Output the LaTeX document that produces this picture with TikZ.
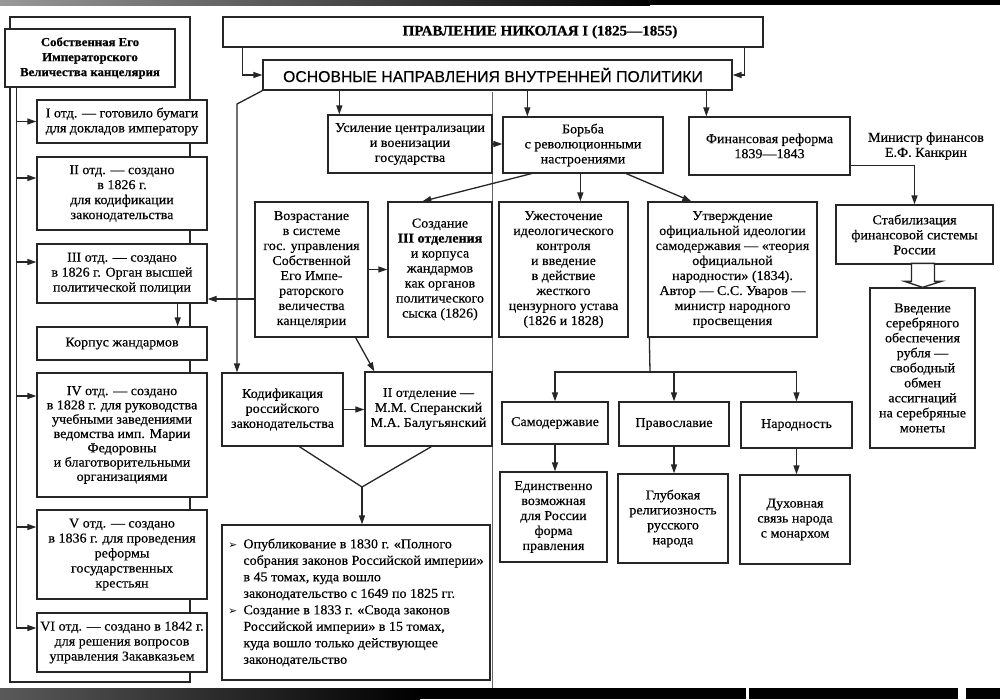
\documentclass[tikz,border=0pt]{standalone}
\usepackage{fontspec}
\setmainfont[FakeStretch=1.04,UprightFeatures={FakeBold=0.4},BoldFeatures={FakeBold=0.5}]{Liberation Serif}
\newfontfamily\sansf[FakeBold=0.3]{Liberation Sans}
\newfontfamily\symf{DejaVu Sans}
\usetikzlibrary{arrows.meta,calc}
\newcommand\Bx[7][]{\node[box,#1,minimum width={#5-#3},minimum height={#6-#4}] (#2) at ({(#3+#5)/2},{(#4+#6)/2}) {#7};}
\newcommand\Bul{\makebox[15pt][l]{\symf\fontsize{10.5}{10}\selectfont ➢}}
\newcommand\Ind{\hspace*{15pt}}
\begin{document}
\begin{tikzpicture}[x=1pt,y=-1pt,
  ln/.style={draw=black!85,line width=1.3pt},
  box/.style={ln,fill=white,inner sep=2pt,align=center,font=\fontsize{13.5}{15}\selectfont},
  arr/.style={ln,-{Triangle[length=9pt,width=6pt]}}]
\useasboundingbox (0,0) rectangle (1000,699);
\fill[white] (0,0) rectangle (1000,699);
% bands
\shade[left color=black!40,right color=black] (0,0) rectangle (650,5);
\fill[black] (650,0) rectangle (1000,5);
\shade[left color=black!65,right color=black] (0,688) rectangle (420,699);
\fill[black] (420,688) rectangle (746,699);
\fill[black] (749,688) rectangle (958,699);
\fill[black] (966,688) rectangle (1000,699);
% frame and seam
\draw[ln] (10,17) rectangle (190,682);
\draw[draw=black!60,line width=0.7pt] (492,92) -- (492,688);
% left panel
\Bx[font=\bfseries\fontsize{12.3}{15}\selectfont]{kanc}{5}{29}{175}{87}{Собственная Его\\Императорского\\Величества канцелярия}
\Bx{o1}{37}{100}{207}{143}{I отд. — готовило бумаги\\для докладов императору}
\Bx{o2}{37}{157}{207}{230}{II отд. — создано\\в 1826 г.\\для кодификации\\законодательства}
\Bx{o3}{37}{244}{207}{303}{III отд. — создано\\в 1826 г. Орган высшей\\политической полиции}
\Bx{korp}{37}{327}{207}{360}{Корпус жандармов}
\Bx[font=\fontsize{13.5}{14.3}\selectfont]{o4}{37}{373}{207}{497}{IV отд. — создано\\в 1828 г. для руководства\\учебными заведениями\\ведомства имп. Марии\\Федоровны\\и благотворительными\\организациями}
\Bx{o5}{37}{510}{207}{599}{V отд. — создано\\в 1836 г. для проведения\\реформы\\государственных\\крестьян}
\Bx{o6}{37}{613}{207}{672}{VI отд. — создано в 1842 г.\\для решения вопросов\\управления Закавказьем}
% top
\Bx[font=\bfseries\fontsize{14.5}{15}\selectfont]{pravl}{223}{17}{763}{47}{\hspace*{94pt}ПРАВЛЕНИЕ НИКОЛАЯ I (1825—1855)}
\Bx[font=\sansf\fontsize{15.8}{17}\selectfont]{osn}{263}{60}{732}{90}{\hspace*{-9pt}ОСНОВНЫЕ НАПРАВЛЕНИЯ ВНУТРЕННЕЙ ПОЛИТИКИ}
\Bx{usil}{328}{115}{492}{173}{Усиление централизации\\и военизации\\государства}
\Bx{borba}{503}{117}{663}{173}{Борьба\\с революционными\\настроениями}
\Bx{fin}{689}{117}{850}{175}{Финансовая реформа\\1839—1843}
\node[align=center,inner sep=0pt,font=\fontsize{13.5}{15}\selectfont] (kankrin) at (926,146) {Министр финансов\\Е.Ф. Канкрин};
\Bx{stab}{836}{205}{993}{264}{Стабилизация\\финансовой системы\\России}
\Bx{vved}{870}{288}{975}{448}{Введение\\серебряного\\обеспечения\\рубля —\\свободный\\обмен\\ассигнаций\\на серебряные\\монеты}
\Bx{vozr}{255}{202}{368}{337}{Возрастание\\в системе\\гос. управления\\Собственной\\Его Импе-\\раторского\\величества\\канцелярии}
\Bx{sozd}{388}{202}{492}{337}{Создание\\\textbf{III отделения}\\и корпуса\\жандармов\\как органов\\политического\\сыска (1826)}
\Bx{uzhest}{499}{202}{628}{337}{Ужесточение\\идеологического\\контроля\\и введение\\в действие\\жесткого\\цензурного устава\\(1826 и 1828)}
\Bx{utv}{648}{202}{817}{337}{Утверждение\\официальной идеологии\\самодержавия — «теория\\официальной\\народности» (1834).\\Автор — С.С. Уваров —\\министр народного\\просвещения}
\Bx{samo}{502}{402}{608}{444}{Самодержавие}
\Bx{prav}{619}{402}{729}{446}{Православие}
\Bx{narod}{741}{402}{852}{448}{Народность}
\Bx{ed}{500}{472}{607}{562}{Единственно\\возможная\\для России\\форма\\правления}
\Bx{glub}{618}{474}{728}{563}{Глубокая\\религиозность\\русского\\народа}
\Bx{duh}{740}{475}{850}{564}{Духовная\\связь народа\\с монархом}
\Bx{kodif}{222}{373}{343}{446}{Кодификация\\российского\\законодательства}
\Bx{otd2}{365}{372}{492}{446}{II отделение —\\М.М. Сперанский\\М.А. Балугьянский}
\Bx[align=left,font=\fontsize{13.5}{16.5}\selectfont]{publ}{222}{525}{490}{680}{\Bul Опубликование в 1830 г. «Полного\\\Ind собрания законов Российской империи»\\\Ind в 45 томах, куда вошло\\\Ind законодательство с 1649 по 1825 гг.\\\Bul Создание в 1833 г. «Свода законов\\\Ind Российской империи» в 15 томах,\\\Ind куда вошло только действующее\\\Ind законодательство}
% left connectors
\coordinate (sp) at ([xshift=12pt]kanc.south west);
\coordinate (s6) at ([yshift=14.5pt]o6.west);
\draw[arr] (sp) |- (s6);
\draw[arr] (sp |- o1.west) -- (o1.west);
\coordinate (s2) at ([yshift=15.5pt]o2.west);
\draw[arr] (sp |- s2) -- (s2);
\coordinate (s3) at ([yshift=11.5pt]o3.west);
\draw[arr] (sp |- s3) -- (s3);
\coordinate (s4) at ([yshift=39pt]o4.west);
\draw[arr] (sp |- s4) -- (s4);
\coordinate (s5) at ([yshift=27.5pt]o5.west);
\draw[arr] (sp |- s5) -- (s5);
\coordinate (c3) at ([xshift=-30pt]o3.south east);
\draw[arr] (c3) -- (c3 |- korp.north);
% top connectors
\draw[arr] ([xshift=20pt]pravl.south west) |- (osn.west);
\draw[arr] ([xshift=-19pt]pravl.south east) |- (osn.east);
\coordinate (u1) at ([xshift=12pt]usil.north west);
\draw[arr] (u1 |- osn.south) -- (u1);
\coordinate (b1) at ([xshift=25pt]borba.north west);
\draw[arr] (b1 |- osn.south) -- (b1);
\coordinate (f1) at ([xshift=18pt]fin.north west);
\draw[arr] (f1 |- osn.south) -- (f1);
\coordinate (bend) at (237,104);
\draw[arr] (osn.south west) -- (bend) -- (bend |- kodif.north);
\draw[arr] (usil.east) -- (usil.east -| borba.west);
\coordinate (b2) at ([xshift=29pt]borba.south west);
\coordinate (s1) at ([xshift=35pt]sozd.north west);
\draw[arr] (b2) -- (s1);
\coordinate (b3) at ([xshift=78pt]borba.south west);
\draw[arr] (b3) -- (b3 |- uzhest.north);
\coordinate (b4) at ([xshift=124pt]borba.south west);
\coordinate (t1) at ([xshift=44pt]utv.north west);
\draw[arr] (b4) -- (t1);
\coordinate (f2) at ([yshift=10pt]fin.south east);
\draw[arr] (f2) -| (stab.north);
\draw[ln,fill=white,line join=miter] (vved.north) -- ++(-18,-6) -- ++(7,0) -- ++(0,-18) -- ++(23,0) -- ++(0,18) -- ++(7,0) -- cycle;
% middle connectors
\coordinate (v1) at ([yshift=-29.5pt]vozr.west);
\draw[arr] (v1) -- (v1 -| o3.east);
\draw[arr] (vozr.east) -- (sozd.west);
\coordinate (v2) at ([xshift=-13pt]vozr.south east);
\coordinate (k1) at ([xshift=10pt]otd2.north west);
\draw[arr] (v2) -- (k1);
\draw[arr] (kodif.east) -- (kodif.east -| otd2.west);
\coordinate (k2) at ([xshift=78pt]kodif.south west);
\coordinate (k3) at ([xshift=67pt]otd2.south west);
\coordinate (jn) at (362,487);
\draw[ln] (k2) -- (jn) -- (k3);
\draw[arr] (jn) -- (jn |- publ.north);
\coordinate (t2) at ([xshift=2pt]utv.south west);
\coordinate (tri) at (650,372);
\draw[ln] (t2) -- (tri);
\draw[arr] (tri) -| (samo.north);
\draw[arr] (tri) -| (narod.north);
\draw[arr] (tri -| prav.north) -- (prav.north);
\draw[arr] (samo.south) -- (samo.south |- ed.north);
\draw[arr] (prav.south) -- (prav.south |- glub.north);
\draw[arr] (narod.south) -- (narod.south |- duh.north);
\end{tikzpicture}
\end{document}
